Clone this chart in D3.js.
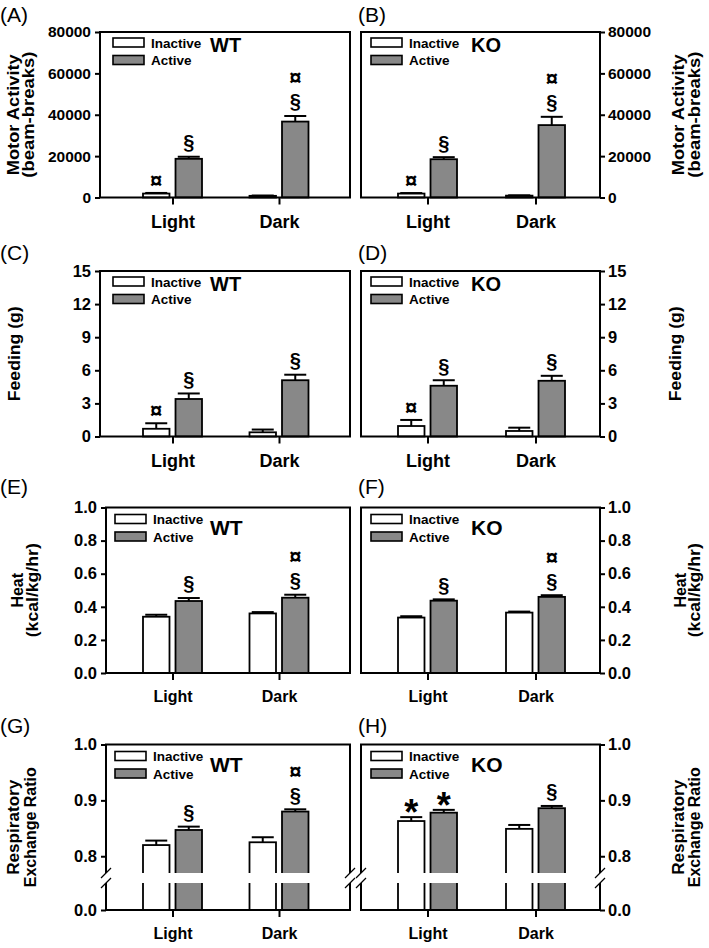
<!DOCTYPE html>
<html>
<head>
<meta charset="utf-8">
<title></title>
<script src="https://cdnjs.cloudflare.com/ajax/libs/d3/7.8.5/d3.min.js"></script>
<style>
    body { margin: 0; background: #fff; }
    svg text { font-family: "Liberation Sans", Arial, sans-serif; }
</style>
</head>
<body>
<div id="fig"></div>
<script>

    // ---- data: rows = [Inactive, Active], columns = [Light, Dark]
    var categories = ["Light", "Dark"];
    var groups = ["Inactive", "Active"];

    var motorWT = [[1900, 800], [18700, 36700]];
    var motorWTse = [[300, 150], [1000, 2700]];
    var motorKO = [[1900, 900], [18500, 35000]];
    var motorKOse = [[250, 150], [1000, 4000]];

    var feedWT = [[0.7, 0.38], [3.4, 5.1]];
    var feedWTse = [[0.5, 0.25], [0.5, 0.5]];
    var feedKO = [[0.95, 0.5], [4.6, 5.05]];
    var feedKOse = [[0.55, 0.3], [0.5, 0.45]];

    var heatWT = [[0.34, 0.36], [0.435, 0.455]];
    var heatWTse = [[0.012, 0.008], [0.018, 0.018]];
    var heatKO = [[0.335, 0.365], [0.437, 0.46]];
    var heatKOse = [[0.008, 0.006], [0.008, 0.01]];

    var rerWT = [[0.82, 0.825], [0.847, 0.88]];
    var rerWTse = [[0.008, 0.009], [0.006, 0.004]];
    var rerKO = [[0.863, 0.849], [0.878, 0.886]];
    var rerKOse = [[0.007, 0.007], [0.005, 0.004]];

    // significance marks above each bar, listed from top to bottom
    var marksMotor = [[["¤"], []], [["§"], ["¤", "§"]]];
    var marksFeed = [[["¤"], []], [["§"], ["§"]]];
    var marksHeat = [[[], []], [["§"], ["¤", "§"]]];
    var marksRerWT = [[[], []], [["§"], ["¤", "§"]]];
    var marksRerKO = [[["*"], []], [["*"], ["§"]]];

    var motorTicks = [0, 20000, 40000, 60000, 80000];
    var feedTicks = [0, 3, 6, 9, 12, 15];
    var heatTicks = [0, 0.2, 0.4, 0.6, 0.8, 1.0];
    var rerTicks = [0, 0.8, 0.9, 1.0];

    var panels = [
        {label: "(A)", col: 0, row: 0, geno: "WT", mean: motorWT, se: motorWTse, marks: marksMotor, ticks: motorTicks, domain: [0, 80000], fmt: d3.format("d"), title: ["Motor Activity", "(beam-breaks)"]},
        {label: "(B)", col: 1, row: 0, geno: "KO", mean: motorKO, se: motorKOse, marks: marksMotor, ticks: motorTicks, domain: [0, 80000], fmt: d3.format("d"), title: ["Motor Activity", "(beam-breaks)"]},
        {label: "(C)", col: 0, row: 1, geno: "WT", mean: feedWT, se: feedWTse, marks: marksFeed, ticks: feedTicks, domain: [0, 15], fmt: d3.format("d"), title: ["Feeding (g)"]},
        {label: "(D)", col: 1, row: 1, geno: "KO", mean: feedKO, se: feedKOse, marks: marksFeed, ticks: feedTicks, domain: [0, 15], fmt: d3.format("d"), title: ["Feeding (g)"]},
        {label: "(E)", col: 0, row: 2, geno: "WT", mean: heatWT, se: heatWTse, marks: marksHeat, ticks: heatTicks, domain: [0, 1], fmt: d3.format(".1f"), title: ["Heat", "(kcal/kg/hr)"]},
        {label: "(F)", col: 1, row: 2, geno: "KO", mean: heatKO, se: heatKOse, marks: marksHeat, ticks: heatTicks, domain: [0, 1], fmt: d3.format(".1f"), title: ["Heat", "(kcal/kg/hr)"]},
        {label: "(G)", col: 0, row: 3, geno: "WT", mean: rerWT, se: rerWTse, marks: marksRerWT, ticks: rerTicks, broken: true, fmt: d3.format(".1f"), title: ["Respiratory", "Exchange Ratio"]},
        {label: "(H)", col: 1, row: 3, geno: "KO", mean: rerKO, se: rerKOse, marks: marksRerKO, ticks: rerTicks, broken: true, fmt: d3.format(".1f"), title: ["Respiratory", "Exchange Ratio"]}
    ];

    // ---- layout
    var W = 709, H = 948;
    var rowTop = [32, 271, 507.5, 744.5], plotH = 165.5;
    var labelY = [22, 260, 494, 733];
    var titleX = [[[18.5, 34], [20], [22.5, 37.5], [19, 36]], [[684, 699.5], [681], [686, 700], [684, 700]]];
    // stretched lengths of the rotated titles (the original text is tall and narrow)
    var titleLen = {"Motor Activity": 121, "(beam-breaks)": 126, "Feeding (g)": 95, "Heat": 0, "(kcal/kg/hr)": 94, "Respiratory": 95, "Exchange Ratio": 120};

    var svg = d3.select("#fig").append("svg")
            .attr("width", W)
            .attr("height", H);

    panels.forEach(drawPanel);

    function drawPanel(p) {
        var top = rowTop[p.row], bottom = top + plotH;
        var left = p.col ? 361 : (p.row < 2 ? 100 : 106);
        var right = p.col ? 600 : 350;
        var big = p.row < 2;
        var g = svg.append("g");

        var y;
        if (p.broken) {
            y = d3.scaleLinear().domain([0, 0.7, 0.77, 1.0]).range([bottom, bottom - 27, bottom - 37, top]);
        } else {
            y = d3.scaleLinear().domain(p.domain).range([bottom, top]);
        }
        var x = d3.scalePoint().domain(categories).range(p.col ? [427.5, 535.5] : [172.5, 279]);
        var xg = d3.scaleBand().domain(groups).range([-29.5, 29.5]).paddingInner(0.185);

        var rows = [];
        groups.forEach(function(gr, gi) {
            categories.forEach(function(c, ci) {
                rows.push({group: gr, cat: c, mean: p.mean[gi][ci], se: p.se[gi][ci], marks: p.marks[gi][ci]});
            });
        });

        // bars
        g.selectAll(".bar").data(rows).enter().append("rect")
            .attr("class", "bar")
            .attr("x", function(d) { return x(d.cat) + xg(d.group); })
            .attr("width", xg.bandwidth())
            .attr("y", function(d) { return y(d.mean); })
            .attr("height", function(d) { return bottom - y(d.mean); })
            .attr("fill", function(d) { return d.group === "Active" ? "#888888" : "#fff"; })
            .attr("stroke", "#000")
            .attr("stroke-width", 1.8);

        // error bars (upper only)
        var cx = function(d) { return x(d.cat) + xg(d.group) + xg.bandwidth() / 2; };
        g.selectAll(".err").data(rows).enter().append("line")
            .attr("x1", cx).attr("x2", cx)
            .attr("y1", function(d) { return y(d.mean); })
            .attr("y2", function(d) { return y(d.mean + d.se); })
            .attr("stroke", "#000").attr("stroke-width", 2);
        g.selectAll(".cap").data(rows).enter().append("line")
            .attr("x1", function(d) { return cx(d) - 11; })
            .attr("x2", function(d) { return cx(d) + 11; })
            .attr("y1", function(d) { return y(d.mean + d.se); })
            .attr("y2", function(d) { return y(d.mean + d.se); })
            .attr("stroke", "#000").attr("stroke-width", 2);

        // significance marks: one text per bar, stacked marks as tspans
        rows.filter(function(d) { return d.marks.length; }).forEach(function(d) {
            var n = d.marks.length;
            var t = g.append("text")
                .attr("text-anchor", "middle")
                .attr("font-weight", "bold");
            d.marks.forEach(function(m, i) {
                var fs = m === "*" ? 36 : (m === "¤" ? 22 : 20);
                var shift = m === "*" ? 0.58 : (m === "¤" ? 0.36 : 0.27);
                var centre = y(d.mean + d.se) - 13 - (n - 1 - i) * 25.5;
                t.append("tspan")
                    .attr("x", cx(d))
                    .attr("y", centre + shift * fs)
                    .attr("font-size", fs)
                    .text(m);
            });
        });

        // axis break
        if (p.broken) {
            g.append("rect")
                .attr("x", left + 1).attr("width", right - left - 2)
                .attr("y", bottom - 37).attr("height", 10)
                .attr("fill", "#fff");
        }

        // frame
        var frame = g.append("g").attr("stroke", "#000").attr("stroke-width", 2).attr("fill", "none");
        frame.append("line").attr("x1", left - 1).attr("x2", right + 1).attr("y1", top).attr("y2", top);
        frame.append("line").attr("x1", left - 1).attr("x2", right + 1).attr("y1", bottom).attr("y2", bottom);
        [left, right].forEach(function(ax) {
            if (p.broken) {
                frame.append("line").attr("x1", ax).attr("x2", ax).attr("y1", top).attr("y2", bottom - 37);
                frame.append("line").attr("x1", ax).attr("x2", ax).attr("y1", bottom - 27).attr("y2", bottom);
                [bottom - 37, bottom - 27].forEach(function(yy) {
                    frame.append("line")
                        .attr("stroke-width", 1.3)
                        .attr("x1", ax - 5).attr("y1", yy + 5)
                        .attr("x2", ax + 5).attr("y2", yy - 5);
                });
            } else {
                frame.append("line").attr("x1", ax).attr("x2", ax).attr("y1", top).attr("y2", bottom);
            }
        });

        // y axis
        var yAxis = (p.col ? d3.axisRight(y) : d3.axisLeft(y))
            .tickValues(p.ticks).tickFormat(p.fmt).tickSize(5).tickPadding(p.col ? 3 : 4);
        var ya = g.append("g")
            .attr("transform", "translate(" + (p.col ? right : left) + ",0)")
            .call(yAxis);
        ya.select(".domain").remove();
        ya.selectAll("line").attr("stroke-width", 2);
        ya.selectAll("text")
            .attr("font-family", "Liberation Sans, Arial, sans-serif")
            .attr("font-weight", "bold")
            .attr("font-size", p.row === 0 ? 15.5 : 16.5);

        // x axis
        var fsX = big ? 18 : 16;
        var xAxis = d3.axisBottom(x).tickSize(7).tickPadding(big ? 11 : 10.5);
        var xa = g.append("g")
            .attr("transform", "translate(0," + bottom + ")")
            .call(xAxis);
        xa.select(".domain").remove();
        xa.selectAll("line").attr("stroke-width", 2);
        xa.selectAll("text")
            .attr("font-family", "Liberation Sans, Arial, sans-serif")
            .attr("font-weight", "bold")
            .attr("font-size", fsX);

        // legend
        var lx = p.col ? 371 : (big ? 113 : 115);
        var ly = top + (big ? 6 : 7);
        groups.forEach(function(gr, i) {
            g.append("rect")
                .attr("x", lx).attr("y", ly + i * 17.5)
                .attr("width", 31).attr("height", 9)
                .attr("fill", gr === "Active" ? "#888888" : "#fff")
                .attr("stroke", "#000").attr("stroke-width", 1.6);
            g.append("text")
                .attr("x", lx + 38).attr("y", ly + i * 17.5 + 9.5)
                .attr("font-size", 13.5).attr("font-weight", "bold")
                .text(gr);
        });
        g.append("text")
            .attr("x", p.col ? 471 : 210)
            .attr("y", top + (big ? 20 : 27))
            .attr("font-size", big ? 20 : 21)
            .attr("font-weight", "bold")
            .text(p.geno);

        // y title
        var cy = (top + bottom) / 2;
        p.title.forEach(function(t, i) {
            var tx = g.append("text")
                .attr("transform", "translate(" + titleX[p.col][p.row][i] + "," + cy + ") rotate(-90)")
                .attr("text-anchor", "middle")
                .attr("font-size", 16)
                .attr("font-weight", "bold")
                .text(t);
            if (titleLen[t]) {
                tx.attr("textLength", titleLen[t]).attr("lengthAdjust", "spacingAndGlyphs");
            }
        });

        // panel label
        g.append("text")
            .attr("x", p.col ? 358 : 0)
            .attr("y", labelY[p.row])
            .attr("font-size", 21)
            .text(p.label);
    }

</script>
</body>
</html>
